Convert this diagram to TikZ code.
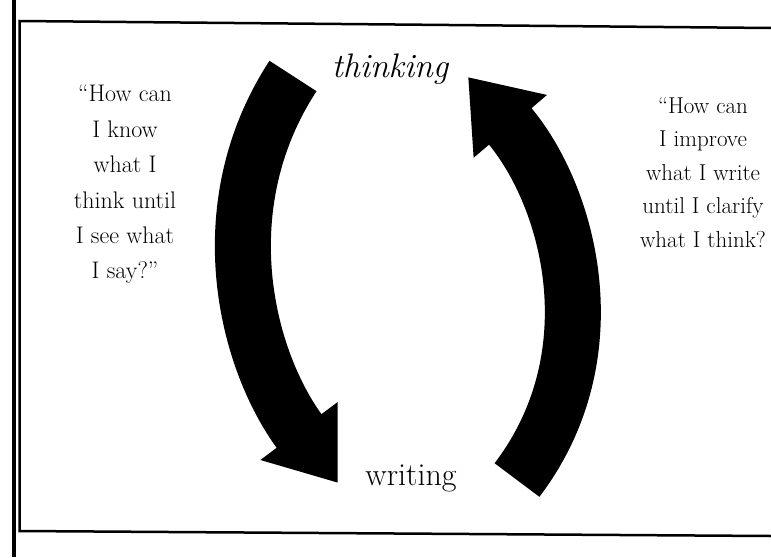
\documentclass[tikz,border=0pt]{standalone}
\usepackage{fontspec}
\usepackage{tikz}
\usetikzlibrary{arrows.meta,positioning}

\tikzset{
  loopband/.style={line width=56pt, line cap=butt, -{Triangle[length=65pt,width=92pt]}},
  quotebox/.style={align=center, inner sep=0pt, font=\fontsize{24}{35.4}\selectfont},
  frameline/.style={line width=2.5pt}
}

\begin{document}
\begin{tikzpicture}[x=1pt,y=-1pt]
  \useasboundingbox (0,0) rectangle (771,557);
  \fill[white] (0,0) rectangle (771,557);

  % frame
  \draw[line width=3.5pt] (14,0) -- (14,557);
  \draw[frameline] (771,28) -- (19.5,21) -- (19.5,531) -- (771,536);

  % labels
  \node[font=\itshape\fontsize{34}{40}\selectfont, anchor=base, inner sep=0pt] (think) at (390,77) {thinking};
  \node[font=\fontsize{32}{38}\selectfont, anchor=base, inner sep=0pt] (write) at (411,485) {writing};
  \node[quotebox, anchor=north] (askleft) at (125,85) {``How can\\ I know\\ what I\\ think until\\ I see what\\ I say?''};
  \node[quotebox, font=\fontsize{23}{33.5}\selectfont, anchor=north] (askright) at (703,97) {``How can\\ I improve\\ what I write\\ until I clarify\\ what I think?};

  % arrows
  \coordinate (ltail) at (293,76);
  \coordinate (ltip) at (338,483);
  \coordinate (rtail) at (517,480);
  \coordinate (rtip) at (468,77);
  \draw[loopband] (ltail) .. controls (208,206) and (245,359) .. (ltip);
  \draw[loopband] (rtail) .. controls (612,355) and (570,196) .. (rtip);
\end{tikzpicture}
\end{document}
